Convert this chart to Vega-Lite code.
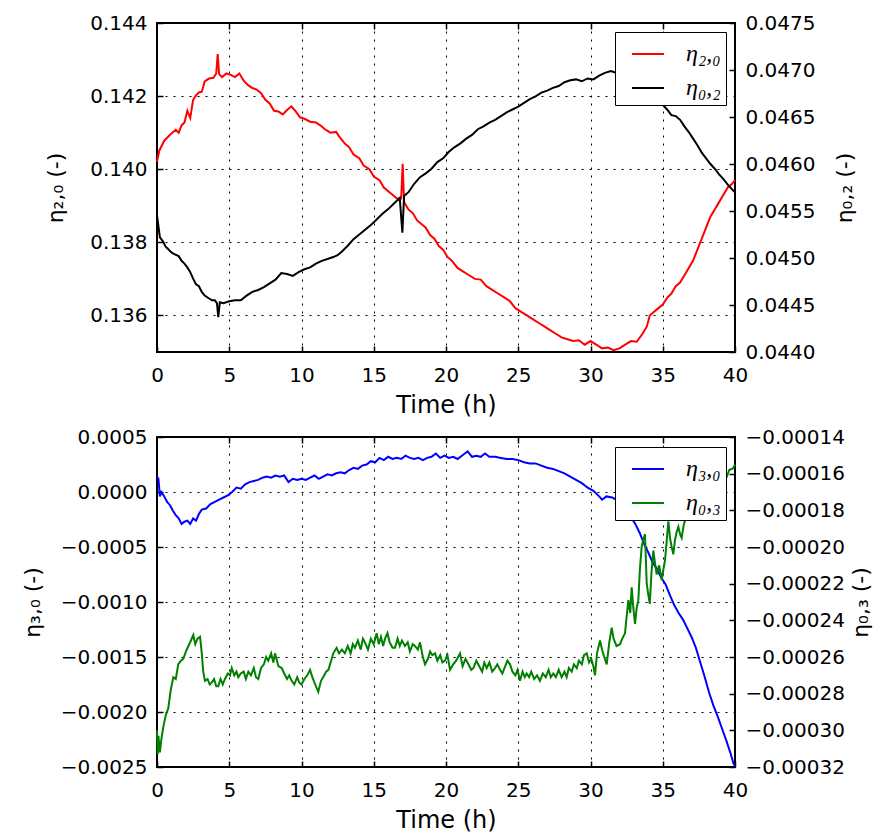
{
"$schema": "https://vega.github.io/schema/vega-lite/v6.json",
"padding": {"left": 20, "top": 12, "right": 0, "bottom": 0},
"background": "white",
"spacing": 8,
"config": {
  "view": {"stroke": "black", "strokeWidth": 2},
  "axis": {"domain": false, "labelFont": "DejaVu Sans", "labelFontSize": 20, "labelColor": "black", "titleFont": "DejaVu Sans", "titleFontSize": 22, "titleFontWeight": "normal", "titleColor": "black", "tickColor": "black", "tickSize": -6, "tickWidth": 1.5, "labelPadding": 16, "gridColor": "black", "gridDash": [2, 6], "gridOpacity": 1, "gridWidth": 1},
  "legend": {"strokeColor": "black", "fillColor": "white"},
  "line": {"strokeWidth": 2, "clip": true}
},
"datasets": {
  "red": [
{"t":0,"v":0.1402},{"t":0.15,"v":0.1405},{"t":0.3,"v":0.14062},{"t":0.5,"v":0.14078},{"t":0.8,"v":0.1409},{"t":1.0,"v":0.14098},{"t":1.3,"v":0.14108},{"t":1.5,"v":0.141},{"t":1.7,"v":0.1412},{"t":1.9,"v":0.14128},{"t":2.1,"v":0.1416},{"t":2.3,"v":0.1414},{"t":2.5,"v":0.1419},{"t":2.7,"v":0.14202},{"t":2.9,"v":0.1421},{"t":3.1,"v":0.14212},{"t":3.3,"v":0.1424},{"t":3.6,"v":0.14248},{"t":3.9,"v":0.1425},{"t":4.1,"v":0.14262},{"t":4.2,"v":0.14315},{"t":4.3,"v":0.1426},{"t":4.5,"v":0.14252},{"t":4.8,"v":0.14262},{"t":5.1,"v":0.14258},{"t":5.4,"v":0.14252},{"t":5.7,"v":0.14262},{"t":6.0,"v":0.14242},{"t":6.3,"v":0.1423},{"t":6.6,"v":0.14222},{"t":6.9,"v":0.14218},{"t":7.2,"v":0.14208},{"t":7.5,"v":0.1419},{"t":7.8,"v":0.1418},{"t":8.1,"v":0.1416},{"t":8.4,"v":0.14158},{"t":8.7,"v":0.1415},{"t":9.0,"v":0.14162},{"t":9.3,"v":0.14172},{"t":9.6,"v":0.14158},{"t":9.9,"v":0.14142},{"t":10.2,"v":0.14138},{"t":10.6,"v":0.1413},{"t":11.0,"v":0.14128},{"t":11.3,"v":0.1412},{"t":11.6,"v":0.1411},{"t":12.0,"v":0.141},{"t":12.4,"v":0.14102},{"t":12.6,"v":0.1409},{"t":13.0,"v":0.1407},{"t":13.3,"v":0.1406},{"t":13.6,"v":0.1404},{"t":14.0,"v":0.1403},{"t":14.3,"v":0.1401},{"t":14.7,"v":0.14},{"t":15.0,"v":0.1398},{"t":15.4,"v":0.1397},{"t":15.7,"v":0.1395},{"t":16.0,"v":0.1394},{"t":16.3,"v":0.1393},{"t":16.6,"v":0.1392},{"t":16.9,"v":0.1392},{"t":17.0,"v":0.14015},{"t":17.1,"v":0.1391},{"t":17.4,"v":0.1389},{"t":17.7,"v":0.1388},{"t":18.0,"v":0.1386},{"t":18.3,"v":0.1385},{"t":18.6,"v":0.1384},{"t":18.9,"v":0.1382},{"t":19.2,"v":0.1381},{"t":19.5,"v":0.1379},{"t":19.8,"v":0.1378},{"t":20.1,"v":0.1376},{"t":20.4,"v":0.1375},{"t":20.8,"v":0.1373},{"t":21.2,"v":0.1372},{"t":21.6,"v":0.1371},{"t":22.0,"v":0.137},{"t":22.4,"v":0.13698},{"t":22.8,"v":0.1368},{"t":23.2,"v":0.1367},{"t":23.6,"v":0.1366},{"t":24.0,"v":0.1365},{"t":24.4,"v":0.1364},{"t":24.8,"v":0.1362},{"t":25.2,"v":0.1361},{"t":25.6,"v":0.136},{"t":26.0,"v":0.1359},{"t":26.4,"v":0.1358},{"t":26.8,"v":0.1357},{"t":27.2,"v":0.1356},{"t":27.6,"v":0.1355},{"t":28.0,"v":0.1354},{"t":28.4,"v":0.13535},{"t":28.8,"v":0.1353},{"t":29.2,"v":0.13532},{"t":29.6,"v":0.1352},{"t":30.0,"v":0.1353},{"t":30.4,"v":0.1352},{"t":30.8,"v":0.1351},{"t":31.2,"v":0.13512},{"t":31.6,"v":0.13505},{"t":32.0,"v":0.1351},{"t":32.4,"v":0.1352},{"t":32.8,"v":0.1353},{"t":33.2,"v":0.13528},{"t":33.6,"v":0.1355},{"t":33.9,"v":0.1357},{"t":34.1,"v":0.136},{"t":34.4,"v":0.1361},{"t":34.7,"v":0.1362},{"t":35.0,"v":0.1363},{"t":35.3,"v":0.13648},{"t":35.6,"v":0.1366},{"t":35.9,"v":0.1368},{"t":36.2,"v":0.1369},{"t":36.5,"v":0.1371},{"t":36.8,"v":0.1373},{"t":37.1,"v":0.1375},{"t":37.4,"v":0.1378},{"t":37.7,"v":0.1381},{"t":38.0,"v":0.1384},{"t":38.3,"v":0.1387},{"t":38.6,"v":0.1389},{"t":38.9,"v":0.1391},{"t":39.2,"v":0.1393},{"t":39.5,"v":0.1395},{"t":39.8,"v":0.1396},{"t":40.0,"v":0.1397}
  ],
  "black": [
{"t":0,"v":0.04545},{"t":0.1,"v":0.04534},{"t":0.2,"v":0.04522},{"t":0.4,"v":0.04518},{"t":0.6,"v":0.04512},{"t":0.8,"v":0.04509},{"t":1.0,"v":0.04506},{"t":1.2,"v":0.04504},{"t":1.5,"v":0.04502},{"t":1.7,"v":0.04497},{"t":1.9,"v":0.04494},{"t":2.1,"v":0.0449},{"t":2.3,"v":0.04485},{"t":2.5,"v":0.04478},{"t":2.7,"v":0.04472},{"t":2.9,"v":0.0447},{"t":3.1,"v":0.04464},{"t":3.3,"v":0.0446},{"t":3.5,"v":0.04458},{"t":3.8,"v":0.04455},{"t":4.0,"v":0.04455},{"t":4.15,"v":0.04452},{"t":4.24,"v":0.04437},{"t":4.35,"v":0.04453},{"t":4.6,"v":0.04452},{"t":5.0,"v":0.04454},{"t":5.4,"v":0.04455},{"t":5.8,"v":0.04455},{"t":6.2,"v":0.0446},{"t":6.6,"v":0.04464},{"t":7.0,"v":0.04466},{"t":7.4,"v":0.04469},{"t":7.8,"v":0.04473},{"t":8.2,"v":0.04477},{"t":8.6,"v":0.04484},{"t":9.0,"v":0.04483},{"t":9.4,"v":0.04481},{"t":9.8,"v":0.04485},{"t":10.2,"v":0.04488},{"t":10.6,"v":0.0449},{"t":11.0,"v":0.04494},{"t":11.4,"v":0.04497},{"t":11.8,"v":0.04499},{"t":12.2,"v":0.04501},{"t":12.5,"v":0.04503},{"t":12.8,"v":0.04507},{"t":13.2,"v":0.04513},{"t":13.6,"v":0.0452},{"t":14.0,"v":0.04525},{"t":14.4,"v":0.0453},{"t":14.8,"v":0.04535},{"t":15.2,"v":0.04541},{"t":15.6,"v":0.04547},{"t":16.0,"v":0.04552},{"t":16.4,"v":0.04558},{"t":16.8,"v":0.04564},{"t":16.98,"v":0.04527},{"t":17.1,"v":0.04566},{"t":17.4,"v":0.0457},{"t":17.8,"v":0.04579},{"t":18.2,"v":0.04586},{"t":18.6,"v":0.0459},{"t":19.0,"v":0.04595},{"t":19.4,"v":0.04602},{"t":19.8,"v":0.04606},{"t":20.2,"v":0.04613},{"t":20.6,"v":0.04618},{"t":21.0,"v":0.04622},{"t":21.4,"v":0.04627},{"t":21.8,"v":0.04631},{"t":22.2,"v":0.04637},{"t":22.6,"v":0.0464},{"t":23.0,"v":0.04644},{"t":23.4,"v":0.04647},{"t":23.8,"v":0.04651},{"t":24.2,"v":0.04655},{"t":24.6,"v":0.04658},{"t":25.0,"v":0.04661},{"t":25.4,"v":0.04665},{"t":25.8,"v":0.04669},{"t":26.2,"v":0.04672},{"t":26.6,"v":0.04676},{"t":27.0,"v":0.04678},{"t":27.4,"v":0.04681},{"t":27.8,"v":0.04683},{"t":28.2,"v":0.04687},{"t":28.6,"v":0.04689},{"t":29.0,"v":0.0469},{"t":29.4,"v":0.04688},{"t":29.8,"v":0.04691},{"t":30.2,"v":0.0469},{"t":30.6,"v":0.04694},{"t":31.0,"v":0.04697},{"t":31.4,"v":0.04699},{"t":31.8,"v":0.04697},{"t":32.2,"v":0.047},{"t":32.6,"v":0.04702},{"t":33.0,"v":0.047},{"t":33.4,"v":0.04698},{"t":33.8,"v":0.04692},{"t":34.2,"v":0.04684},{"t":34.6,"v":0.04672},{"t":35.0,"v":0.04663},{"t":35.3,"v":0.04658},{"t":35.6,"v":0.04652},{"t":35.9,"v":0.04651},{"t":36.2,"v":0.04647},{"t":36.5,"v":0.0464},{"t":36.8,"v":0.04634},{"t":37.1,"v":0.04627},{"t":37.4,"v":0.0462},{"t":37.7,"v":0.04612},{"t":38.0,"v":0.04606},{"t":38.3,"v":0.046},{"t":38.6,"v":0.04595},{"t":38.9,"v":0.04589},{"t":39.2,"v":0.04584},{"t":39.5,"v":0.04578},{"t":39.8,"v":0.04573},{"t":40.0,"v":0.0457}
  ],
  "blue": [
{"t":0,"v":0.00014},{"t":0.1,"v":0.00012},{"t":0.2,"v":-0.00004},{"t":0.3,"v":0.0},{"t":0.5,"v":-0.00004},{"t":0.7,"v":-0.00009},{"t":0.9,"v":-0.00012},{"t":1.1,"v":-0.00017},{"t":1.3,"v":-0.00021},{"t":1.5,"v":-0.00024},{"t":1.7,"v":-0.00029},{"t":1.9,"v":-0.00027},{"t":2.1,"v":-0.00026},{"t":2.3,"v":-0.00029},{"t":2.5,"v":-0.00024},{"t":2.7,"v":-0.00026},{"t":2.9,"v":-0.0002},{"t":3.1,"v":-0.00016},{"t":3.4,"v":-0.00015},{"t":3.7,"v":-0.00011},{"t":4.0,"v":-0.00009},{"t":4.3,"v":-0.00007},{"t":4.6,"v":-0.00005},{"t":4.9,"v":-0.00003},{"t":5.2,"v":0.0},{"t":5.5,"v":0.00004},{"t":5.8,"v":0.00003},{"t":6.1,"v":0.00007},{"t":6.4,"v":0.00009},{"t":6.7,"v":0.0001},{"t":7.0,"v":0.00011},{"t":7.3,"v":0.00013},{"t":7.6,"v":0.00014},{"t":7.9,"v":0.00013},{"t":8.2,"v":0.00015},{"t":8.5,"v":0.00014},{"t":8.8,"v":0.00015},{"t":9.1,"v":0.00009},{"t":9.4,"v":0.00012},{"t":9.7,"v":0.00011},{"t":10.0,"v":0.00012},{"t":10.3,"v":0.00011},{"t":10.6,"v":0.00013},{"t":10.9,"v":0.00015},{"t":11.2,"v":0.00012},{"t":11.5,"v":0.00014},{"t":11.8,"v":0.00016},{"t":12.1,"v":0.00015},{"t":12.4,"v":0.00017},{"t":12.7,"v":0.00018},{"t":13.0,"v":0.00017},{"t":13.3,"v":0.0002},{"t":13.6,"v":0.00022},{"t":13.9,"v":0.00021},{"t":14.2,"v":0.00024},{"t":14.5,"v":0.00025},{"t":14.8,"v":0.00028},{"t":15.1,"v":0.00027},{"t":15.4,"v":0.00031},{"t":15.7,"v":0.00029},{"t":16.0,"v":0.00032},{"t":16.3,"v":0.0003},{"t":16.6,"v":0.00031},{"t":16.9,"v":0.0003},{"t":17.2,"v":0.00033},{"t":17.5,"v":0.00031},{"t":17.8,"v":0.0003},{"t":18.1,"v":0.00031},{"t":18.4,"v":0.00029},{"t":18.7,"v":0.00031},{"t":19.0,"v":0.00032},{"t":19.3,"v":0.00035},{"t":19.6,"v":0.00031},{"t":19.9,"v":0.00033},{"t":20.2,"v":0.00031},{"t":20.5,"v":0.00032},{"t":20.8,"v":0.0003},{"t":21.1,"v":0.00033},{"t":21.5,"v":0.00037},{"t":21.8,"v":0.00032},{"t":22.1,"v":0.00033},{"t":22.4,"v":0.00032},{"t":22.7,"v":0.00035},{"t":23.0,"v":0.00032},{"t":23.4,"v":0.00032},{"t":23.8,"v":0.00031},{"t":24.2,"v":0.0003},{"t":24.6,"v":0.0003},{"t":25.0,"v":0.00029},{"t":25.4,"v":0.00027},{"t":25.8,"v":0.00026},{"t":26.2,"v":0.00026},{"t":26.6,"v":0.00024},{"t":27.0,"v":0.00022},{"t":27.4,"v":0.00021},{"t":27.8,"v":0.00019},{"t":28.2,"v":0.00017},{"t":28.6,"v":0.00014},{"t":29.0,"v":0.00011},{"t":29.4,"v":0.00008},{"t":29.8,"v":0.00004},{"t":30.2,"v":0.00001},{"t":30.6,"v":-0.00004},{"t":30.8,"v":-0.00007},{"t":31.1,"v":-0.00004},{"t":31.5,"v":-0.00005},{"t":31.9,"v":-0.00008},{"t":32.2,"v":-0.00012},{"t":32.5,"v":-0.00017},{"t":32.8,"v":-0.00023},{"t":33.1,"v":-0.00029},{"t":33.4,"v":-0.00037},{"t":33.7,"v":-0.00047},{"t":34.0,"v":-0.00055},{"t":34.3,"v":-0.00064},{"t":34.6,"v":-0.0007},{"t":34.9,"v":-0.00078},{"t":35.2,"v":-0.00084},{"t":35.5,"v":-0.00094},{"t":35.8,"v":-0.00103},{"t":36.1,"v":-0.0011},{"t":36.4,"v":-0.00116},{"t":36.7,"v":-0.00124},{"t":37.0,"v":-0.00132},{"t":37.3,"v":-0.00142},{"t":37.6,"v":-0.00155},{"t":37.9,"v":-0.00168},{"t":38.2,"v":-0.00182},{"t":38.5,"v":-0.00194},{"t":38.8,"v":-0.00204},{"t":39.1,"v":-0.00215},{"t":39.4,"v":-0.00226},{"t":39.7,"v":-0.00238},{"t":39.9,"v":-0.00247},{"t":40.0,"v":-0.00249}
  ],
  "green": [
{"t":0,"v":-0.0003},{"t":0.05,"v":-0.000313},{"t":0.1,"v":-0.000303},{"t":0.2,"v":-0.000312},{"t":0.3,"v":-0.000305},{"t":0.44,"v":-0.000298},{"t":0.6,"v":-0.000292},{"t":0.78,"v":-0.000288},{"t":0.95,"v":-0.000278},{"t":1.13,"v":-0.000271},{"t":1.3,"v":-0.000272},{"t":1.47,"v":-0.000264},{"t":1.65,"v":-0.000262},{"t":1.82,"v":-0.000261},{"t":2.0,"v":-0.000257},{"t":2.17,"v":-0.000254},{"t":2.35,"v":-0.000251},{"t":2.51,"v":-0.000248},{"t":2.65,"v":-0.000253},{"t":2.8,"v":-0.00025},{"t":2.98,"v":-0.000249},{"t":3.1,"v":-0.000258},{"t":3.2,"v":-0.000268},{"t":3.32,"v":-0.000273},{"t":3.5,"v":-0.000272},{"t":3.65,"v":-0.000275},{"t":3.78,"v":-0.000274},{"t":3.95,"v":-0.000272},{"t":4.1,"v":-0.000276},{"t":4.24,"v":-0.000276},{"t":4.4,"v":-0.000272},{"t":4.55,"v":-0.000275},{"t":4.7,"v":-0.000272},{"t":4.9,"v":-0.000269},{"t":5.05,"v":-0.00027},{"t":5.17,"v":-0.000266},{"t":5.35,"v":-0.00027},{"t":5.5,"v":-0.000268},{"t":5.63,"v":-0.000271},{"t":5.8,"v":-0.000269},{"t":6.0,"v":-0.000268},{"t":6.15,"v":-0.000272},{"t":6.32,"v":-0.000268},{"t":6.5,"v":-0.00027},{"t":6.7,"v":-0.000266},{"t":6.85,"v":-0.000271},{"t":7.01,"v":-0.000272},{"t":7.2,"v":-0.000266},{"t":7.4,"v":-0.000264},{"t":7.55,"v":-0.00026},{"t":7.7,"v":-0.000262},{"t":7.9,"v":-0.000258},{"t":8.05,"v":-0.000263},{"t":8.17,"v":-0.000258},{"t":8.4,"v":-0.000265},{"t":8.63,"v":-0.000266},{"t":8.8,"v":-0.000269},{"t":9.0,"v":-0.000272},{"t":9.15,"v":-0.00027},{"t":9.32,"v":-0.000273},{"t":9.5,"v":-0.000275},{"t":9.7,"v":-0.000271},{"t":9.85,"v":-0.000274},{"t":10.0,"v":-0.000275},{"t":10.2,"v":-0.000272},{"t":10.4,"v":-0.00027},{"t":10.59,"v":-0.000267},{"t":10.75,"v":-0.000271},{"t":10.95,"v":-0.000275},{"t":11.16,"v":-0.000279},{"t":11.35,"v":-0.000273},{"t":11.5,"v":-0.000271},{"t":11.7,"v":-0.000268},{"t":11.86,"v":-0.000267},{"t":12.05,"v":-0.000262},{"t":12.2,"v":-0.000258},{"t":12.43,"v":-0.000255},{"t":12.6,"v":-0.000258},{"t":12.8,"v":-0.000256},{"t":13.0,"v":-0.000258},{"t":13.2,"v":-0.000254},{"t":13.4,"v":-0.000258},{"t":13.55,"v":-0.000253},{"t":13.7,"v":-0.000255},{"t":13.9,"v":-0.000251},{"t":14.1,"v":-0.000256},{"t":14.25,"v":-0.00025},{"t":14.39,"v":-0.000252},{"t":14.6,"v":-0.000256},{"t":14.8,"v":-0.00025},{"t":15.0,"v":-0.000253},{"t":15.2,"v":-0.000247},{"t":15.35,"v":-0.000253},{"t":15.5,"v":-0.000249},{"t":15.65,"v":-0.000254},{"t":15.78,"v":-0.00025},{"t":15.95,"v":-0.000247},{"t":16.1,"v":-0.000252},{"t":16.3,"v":-0.000255},{"t":16.47,"v":-0.000255},{"t":16.65,"v":-0.00025},{"t":16.8,"v":-0.000254},{"t":16.95,"v":-0.000251},{"t":17.16,"v":-0.000254},{"t":17.35,"v":-0.000252},{"t":17.5,"v":-0.000257},{"t":17.7,"v":-0.000253},{"t":17.85,"v":-0.000254},{"t":18.05,"v":-0.000256},{"t":18.2,"v":-0.000252},{"t":18.4,"v":-0.00026},{"t":18.55,"v":-0.000264},{"t":18.75,"v":-0.000261},{"t":18.9,"v":-0.000257},{"t":19.05,"v":-0.000259},{"t":19.24,"v":-0.000258},{"t":19.4,"v":-0.000262},{"t":19.6,"v":-0.000259},{"t":19.75,"v":-0.000263},{"t":19.93,"v":-0.000262},{"t":20.1,"v":-0.000259},{"t":20.28,"v":-0.000267},{"t":20.5,"v":-0.000264},{"t":20.7,"v":-0.000262},{"t":20.97,"v":-0.000258},{"t":21.15,"v":-0.000265},{"t":21.35,"v":-0.000261},{"t":21.55,"v":-0.000264},{"t":21.75,"v":-0.000267},{"t":21.9,"v":-0.000266},{"t":22.1,"v":-0.000262},{"t":22.3,"v":-0.000265},{"t":22.5,"v":-0.000268},{"t":22.65,"v":-0.000263},{"t":22.82,"v":-0.000266},{"t":23.0,"v":-0.000263},{"t":23.2,"v":-0.000268},{"t":23.4,"v":-0.000266},{"t":23.55,"v":-0.000264},{"t":23.74,"v":-0.000267},{"t":23.9,"v":-0.000269},{"t":24.1,"v":-0.000265},{"t":24.25,"v":-0.000262},{"t":24.43,"v":-0.000264},{"t":24.6,"v":-0.000268},{"t":24.8,"v":-0.00027},{"t":24.95,"v":-0.000267},{"t":25.12,"v":-0.000273},{"t":25.3,"v":-0.000268},{"t":25.45,"v":-0.000271},{"t":25.58,"v":-0.000269},{"t":25.75,"v":-0.000271},{"t":25.9,"v":-0.000268},{"t":26.1,"v":-0.000272},{"t":26.3,"v":-0.00027},{"t":26.5,"v":-0.000273},{"t":26.7,"v":-0.000269},{"t":26.9,"v":-0.000271},{"t":27.1,"v":-0.000267},{"t":27.25,"v":-0.000271},{"t":27.43,"v":-0.000269},{"t":27.6,"v":-0.000271},{"t":27.8,"v":-0.000267},{"t":28.0,"v":-0.000271},{"t":28.2,"v":-0.000268},{"t":28.35,"v":-0.000271},{"t":28.5,"v":-0.000266},{"t":28.7,"v":-0.000268},{"t":28.85,"v":-0.000264},{"t":29.05,"v":-0.000266},{"t":29.2,"v":-0.000262},{"t":29.4,"v":-0.000264},{"t":29.55,"v":-0.000259},{"t":29.74,"v":-0.000258},{"t":29.9,"v":-0.000263},{"t":30.05,"v":-0.000261},{"t":30.2,"v":-0.000265},{"t":30.31,"v":-0.00027},{"t":30.45,"v":-0.000258},{"t":30.66,"v":-0.000251},{"t":30.8,"v":-0.000256},{"t":30.95,"v":-0.00026},{"t":31.12,"v":-0.000264},{"t":31.3,"v":-0.000252},{"t":31.47,"v":-0.000244},{"t":31.6,"v":-0.00025},{"t":31.8,"v":-0.000254},{"t":32.04,"v":-0.000253},{"t":32.2,"v":-0.00025},{"t":32.39,"v":-0.000247},{"t":32.5,"v":-0.000238},{"t":32.62,"v":-0.000229},{"t":32.75,"v":-0.000236},{"t":32.85,"v":-0.000222},{"t":32.95,"v":-0.000232},{"t":33.08,"v":-0.000242},{"t":33.2,"v":-0.000233},{"t":33.31,"v":-0.000229},{"t":33.42,"v":-0.000212},{"t":33.54,"v":-0.0002},{"t":33.65,"v":-0.000196},{"t":33.77,"v":-0.000193},{"t":33.89,"v":-0.00022},{"t":34.0,"v":-0.000226},{"t":34.1,"v":-0.000231},{"t":34.22,"v":-0.000214},{"t":34.35,"v":-0.000202},{"t":34.45,"v":-0.000208},{"t":34.58,"v":-0.000215},{"t":34.75,"v":-0.00021},{"t":34.93,"v":-0.000218},{"t":35.05,"v":-0.000212},{"t":35.16,"v":-0.000207},{"t":35.28,"v":-0.000196},{"t":35.39,"v":-0.000186},{"t":35.5,"v":-0.000195},{"t":35.62,"v":-0.0002},{"t":35.73,"v":-0.000204},{"t":35.85,"v":-0.000196},{"t":35.96,"v":-0.000192},{"t":36.08,"v":-0.000189},{"t":36.2,"v":-0.000193},{"t":36.31,"v":-0.000195},{"t":36.45,"v":-0.000188},{"t":36.6,"v":-0.000184},{"t":36.8,"v":-0.000182},{"t":37.0,"v":-0.000179},{"t":37.3,"v":-0.000177},{"t":37.6,"v":-0.000174},{"t":37.9,"v":-0.000171},{"t":38.2,"v":-0.000169},{"t":38.5,"v":-0.000167},{"t":38.8,"v":-0.000165},{"t":39.1,"v":-0.000163},{"t":39.42,"v":-0.000162},{"t":39.6,"v":-0.000158},{"t":39.88,"v":-0.000157},{"t":40.0,"v":-0.000155}
  ]
},
"resolve": {"scale": {"color": "independent"}},
"vconcat": [
  {
    "width": 578, "height": 329,
    "layer": [
      {
        "data": {"name": "red"},
        "mark": {"type": "line"},
        "encoding": {
          "x": {"field": "t", "type": "quantitative", "scale": {"domain": [0, 40], "nice": false, "zero": false},
                "axis": {"orient": "bottom", "title": "Time (h)", "titleFontSize": 24, "values": [0,5,10,15,20,25,30,35,40], "grid": true, "labelPadding": 19, "titlePadding": 8, "labelFlush": false}},
          "y": {"field": "v", "type": "quantitative", "scale": {"domain": [0.135, 0.144], "nice": false, "zero": false},
                "axis": {"orient": "left", "title": "η₂,₀ (-)", "values": [0.136,0.138,0.14,0.142,0.144], "format": ".3f", "grid": true, "titlePadding": 22}},
          "color": {"datum": "η₂,₀", "type": "nominal", "scale": {"domain": ["η₂,₀", "η₀,₂"], "range": ["#ff0000", "#000000"]},
                    "legend": {"orient": "none", "legendX": 458, "legendY": 9, "title": null, "symbolType": "stroke", "symbolSize": 1024, "symbolStrokeWidth": 2.5, "padding": 5, "rowPadding": 5, "symbolOffset": 11, "labelOffset": 21, "labelFont": "Liberation Serif", "labelFontStyle": "italic", "labelFontSize": 24, "labelColor": "black", "strokeColor": "black", "fillColor": "white"}}
        }
      },
      {
        "data": {"name": "black"},
        "mark": {"type": "line"},
        "encoding": {
          "x": {"field": "t", "type": "quantitative", "axis": {"orient": "top", "labels": false, "title": null, "grid": false, "values": [5,10,15,20,25,30,35]}},
          "y": {"field": "v", "type": "quantitative", "scale": {"domain": [0.044, 0.0475], "nice": false, "zero": false},
                "axis": {"orient": "right", "title": "η₀,₂ (-)", "titleAngle": 270, "titleBaseline": "top", "values": [0.044,0.0445,0.045,0.0455,0.046,0.0465,0.047,0.0475], "format": ".4f", "grid": false, "titlePadding": 20}},
          "color": {"datum": "η₀,₂", "type": "nominal"}
        }
      }
    ],
    "resolve": {"scale": {"y": "independent"}, "axis": {"x": "independent"}}
  },
  {
    "width": 578, "height": 330,
    "layer": [
      {
        "data": {"name": "blue"},
        "mark": {"type": "line"},
        "encoding": {
          "x": {"field": "t", "type": "quantitative", "scale": {"domain": [0, 40], "nice": false, "zero": false},
                "axis": {"orient": "bottom", "title": "Time (h)", "titleFontSize": 24, "values": [0,5,10,15,20,25,30,35,40], "grid": true, "labelPadding": 19, "titlePadding": 8, "labelFlush": false}},
          "y": {"field": "v", "type": "quantitative", "scale": {"domain": [-0.0025, 0.0005], "nice": false, "zero": false},
                "axis": {"orient": "left", "title": "η₃,₀ (-)", "values": [-0.0025,-0.002,-0.0015,-0.001,-0.0005,0,0.0005], "format": ".4f", "grid": true, "titlePadding": 16}},
          "color": {"datum": "η₃,₀", "type": "nominal", "scale": {"domain": ["η₃,₀", "η₀,₃"], "range": ["#0000ff", "#008000"]},
                    "legend": {"orient": "none", "legendX": 458, "legendY": 10, "title": null, "symbolType": "stroke", "symbolSize": 1024, "symbolStrokeWidth": 2.5, "padding": 5, "rowPadding": 5, "symbolOffset": 11, "labelOffset": 21, "labelFont": "Liberation Serif", "labelFontStyle": "italic", "labelFontSize": 24, "labelColor": "black", "strokeColor": "black", "fillColor": "white"}}
        }
      },
      {
        "data": {"name": "green"},
        "mark": {"type": "line"},
        "encoding": {
          "x": {"field": "t", "type": "quantitative", "axis": {"orient": "top", "labels": false, "title": null, "grid": false, "values": [5,10,15,20,25,30,35]}},
          "y": {"field": "v", "type": "quantitative", "scale": {"domain": [-0.00032, -0.00014], "nice": false, "zero": false},
                "axis": {"orient": "right", "title": "η₀,₃ (-)", "titleAngle": 270, "titleBaseline": "top", "values": [-0.00032,-0.0003,-0.00028,-0.00026,-0.00024,-0.00022,-0.0002,-0.00018,-0.00016,-0.00014], "format": ".5f", "grid": false, "titlePadding": 6}},
          "color": {"datum": "η₀,₃", "type": "nominal"}
        }
      }
    ],
    "resolve": {"scale": {"y": "independent"}, "axis": {"x": "independent"}}
  }
]
}
